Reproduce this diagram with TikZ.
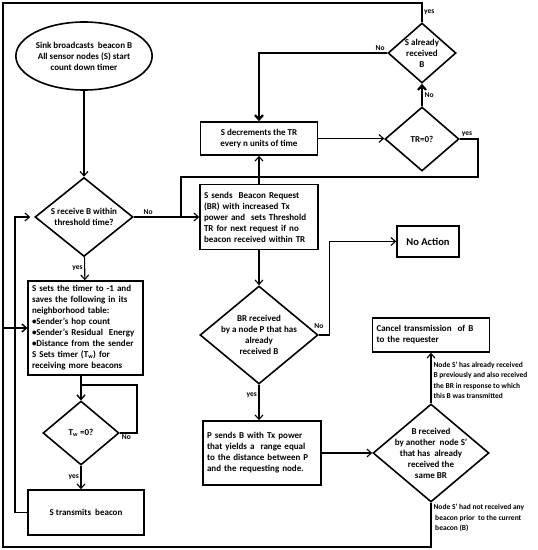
\documentclass[tikz,border=0pt]{standalone}
\usepackage{fontspec}
\setmainfont{Carlito}
\usetikzlibrary{shapes.geometric,arrows.meta}

\begin{document}
\begin{tikzpicture}[x=1pt, y=-1pt,
    >={Straight Barb[length=4.5pt,width=8pt]},
    txt/.style={font=\bfseries\fontsize{9}{11}\selectfont},
    box/.style={draw, txt, line width=1.6pt, inner xsep=4pt, inner ysep=2pt},
    decision/.style={draw, diamond, line width=1.6pt, inner sep=0pt},
    dtext/.style={txt, align=center},
    flow/.style={->, line width=1.1pt},
    wire/.style={line width=1.1pt},
    heavy/.style={->, line width=2.2pt},
    tag/.style={font=\bfseries\fontsize{7.5}{9}\selectfont, inner sep=1.5pt},
    note/.style={align=left, font=\bfseries\fontsize{7.5}{10.3}\selectfont, inner sep=0pt}]

    \useasboundingbox (0,0) rectangle (538,550);

    % Left column
    \node[draw, ellipse, txt, align=center, line width=1.6pt, inner sep=0pt,
          minimum width=132pt, minimum height=68pt] (sink) at (84,56)
        {Sink broadcasts \ beacon B\\All sensor nodes (S) start\\count down timer};
    \node[decision, minimum width=98pt, minimum height=79pt,
          label={[dtext]center:{S receive B within\\threshold time?}}] (recv) at (84,217) {};
    \node[box, align=left, text width=107pt, minimum height=94pt] (sets) at (85.5,328)
        {S sets the timer to -1 and\\saves the following in its\\neighborhood table:\\
         \textbullet Sender's hop count\\\textbullet Sender's Residual \ Energy\\
         \textbullet Distance from the sender\\S Sets timer (T\textsubscript{w}) for\\receiving more beacons};
    \node[decision, minimum width=76pt, minimum height=64pt,
          label={[dtext]center:{T\textsubscript{w} =0?}}] (tw) at (81,433) {};
    \node[box, align=center, minimum width=116pt, minimum height=45pt] (trans) at (86,512.5)
        {S transmits \ beacon};

    % Middle column
    \node[box, align=center, minimum width=117pt, minimum height=33pt] (dec) at (259,138.5)
        {S decrements the TR\\every n units of time};
    \node[box, align=left, text width=110pt, minimum height=65pt] (sbr) at (259,217)
        {S sends \ Beacon Request\\(BR) with increased Tx\\power and \ sets Threshold\\
         TR for next request if no\\beacon received within TR};
    \node[decision, minimum width=118pt, minimum height=98pt,
          label={[dtext]center:{BR received\\by a node P that has\\already\\received B}}] (brq) at (259,335) {};
    \node[box, align=left, text width=110pt, minimum height=64pt] (psend) at (262,453)
        {P sends B with Tx power\\that yields a \ range equal\\to the distance between P\\and the requesting node.};

    % Right column
    \node[decision, minimum width=68pt, minimum height=60pt,
          label={[dtext]center:{S already\\received\\B}}] (alr) at (422,53) {};
    \node[decision, minimum width=74pt, minimum height=64pt,
          label={[dtext]center:{TR=0?}}] (trz) at (422,139) {};
    \node[box, font=\bfseries\fontsize{10.5}{12}\selectfont, minimum width=62pt, minimum height=31pt] (noact) at (428,241.5)
        {No Action};
    \node[box, align=left, text width=109pt, minimum height=34pt] (cancel) at (431,335)
        {Cancel transmission \ of B\\to the requester};
    \node[decision, minimum width=116pt, minimum height=98pt,
          label={[dtext]center:{B received\\by another \ node S'\\that has \ already\\received the\\same BR}}] (brs) at (431,453) {};

    % Outer loop corners
    \coordinate (ctl) at (3,3);
    \coordinate (cbl) at (3,547);
    \coordinate (backx) at (15,0);
    \coordinate (twloop) at (137,385);
    \coordinate (trzloop) at (478,177);
    \coordinate (sbrjoin) at (181,177);

    % Connectors
    \draw[flow] (sink) -- (recv);
    \draw[flow] (recv.east) -- node[tag, pos=0.22, above] {No} (recv.east -| sbr.west);
    \draw[flow] (recv) -- node[tag, left] {yes} (sets);
    \draw[flow] (sets.south -| tw.north) -- (tw.north);
    \draw[flow] (tw.east) node[tag, below right] {No} -| (twloop) -| (tw.north);
    \draw[flow] (tw) -- node[tag, left] {yes} (tw.south |- trans.north);
    \draw[flow, shorten >=4pt] (trans.west) -- (trans.west -| backx) |- (recv.west);

    \draw[flow] (alr.north) |- node[tag, pos=0.25, right] {yes} (ctl) |- (sets.west);
    \draw[heavy] (alr.west) node[tag, above left] {No} -| (dec.north);
    \draw[flow] (dec.east) -- (dec.east -| trz.west);
    \draw[heavy] (trz) -- node[tag, right] {No} (alr);
    \draw[wire] (trz.east) node[tag, above right] {yes} -| (trzloop) -- (sbrjoin) -- (sbrjoin |- recv.east);

    \draw[flow] (sbr) -- (dec);
    \draw[flow] (sbr) -- (brq);
    \draw[flow] (brq.east) node[tag, above, yshift=4pt] {No} -- ++(11,0) |- (noact.west);
    \draw[flow] (brq) -- node[tag, pos=0.3, left] {yes} (brq.south |- psend.north);
    \draw[flow] (psend.east) -- (psend.east -| brs.west);

    \draw[flow] (brs) -- node[note, pos=0, anchor=south west, xshift=2pt, yshift=4pt]
        {Node S' has already received\\B previously and also received\\the BR in response to which\\this B was transmitted} (cancel);
    \draw[flow] (brs.south) |- node[note, pos=0, anchor=north west, xshift=2pt, yshift=-1pt]
        {Node S' had not received any\\\ beacon prior \ to the current\\\ beacon (B)} (cbl) |- (sets.west);
\end{tikzpicture}
\end{document}
